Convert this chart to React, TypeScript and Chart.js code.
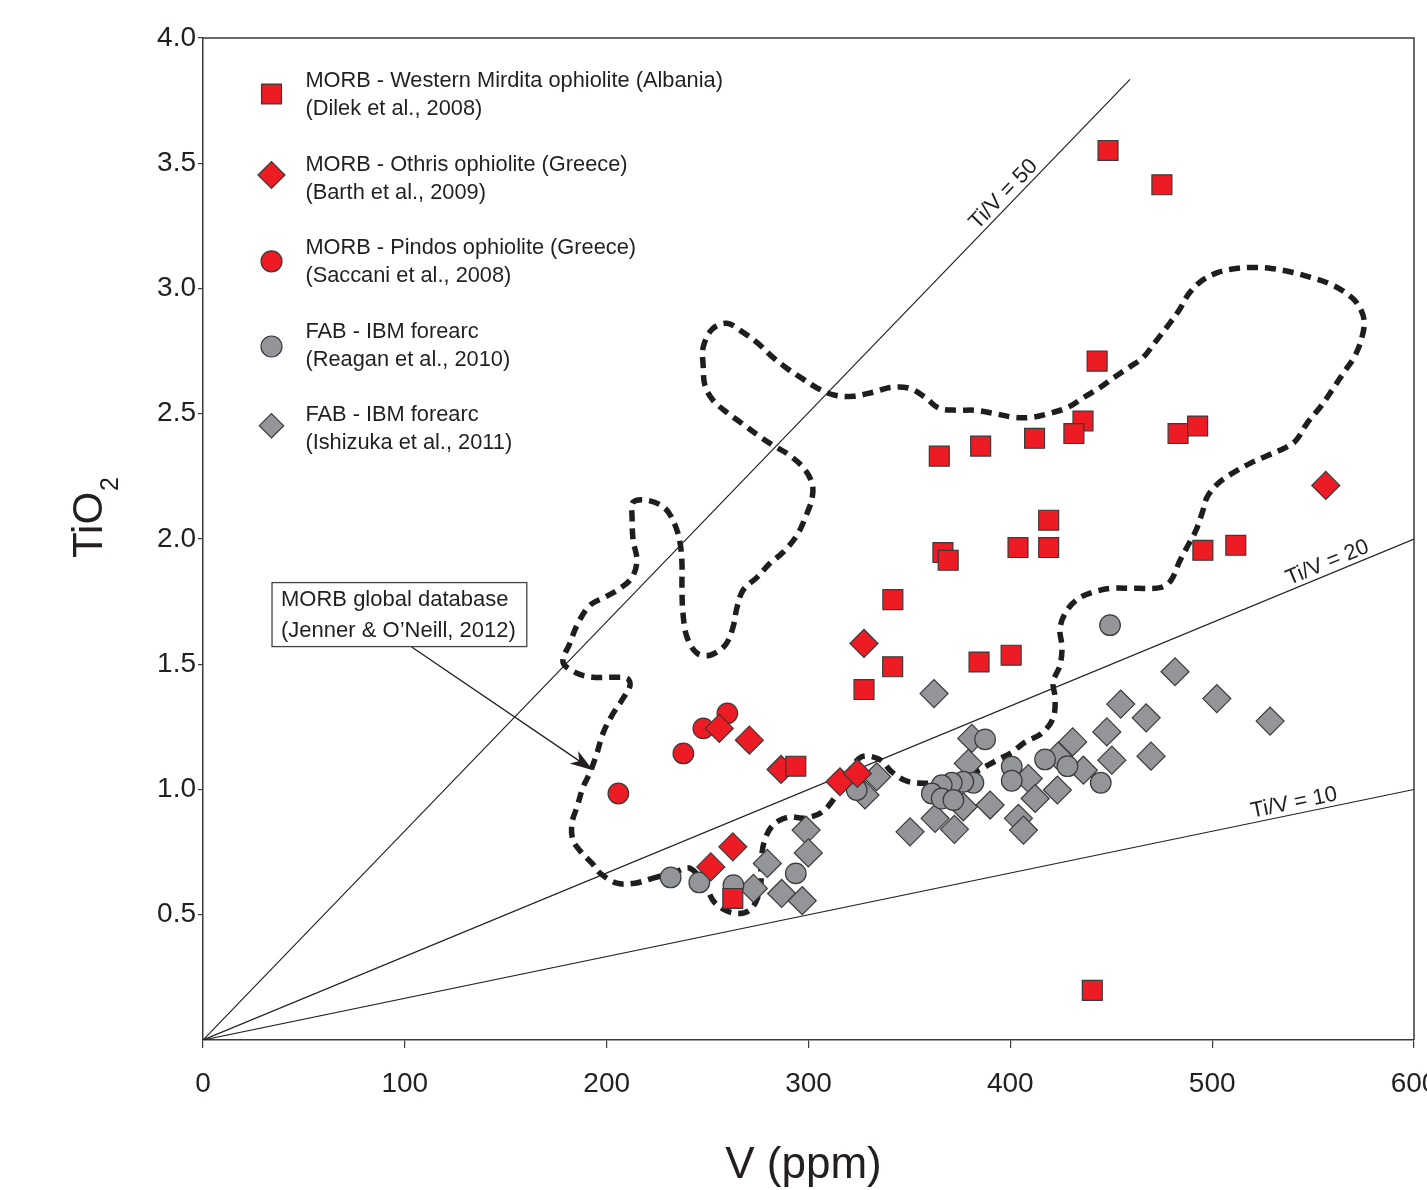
import React, { useEffect, useRef } from 'react';
import { Chart, registerables } from 'chart.js';

Chart.register(...registerables);

const FONT = '"Liberation Sans", Arial, Helvetica, sans-serif';
const INK = '#231f20';
const RED = '#ed1c24';
const GRAY = '#939598';
const EDGE = '#3a3a3a';

// axis ticks
const xTickValues = [0, 100, 200, 300, 400, 500, 600];
const yTickValues = [0.5, 1.0, 1.5, 2.0, 2.5, 3.0, 3.5, 4.0];

// MORB - Western Mirdita ophiolite (Albania), Dilek et al. 2008
const mirditaV = [448.4, 475.1, 443.0, 364.8, 385.3, 412.0, 436.0, 431.5, 483.1, 492.8, 419.0, 403.8, 419.0, 366.6, 369.2, 495.4, 511.7, 341.8, 341.7, 327.5, 384.5, 400.4, 293.7, 262.5, 440.6];
const mirditaTiO2 = [3.551, 3.414, 2.710, 2.331, 2.371, 2.402, 2.471, 2.421, 2.421, 2.451, 2.075, 1.966, 1.966, 1.946, 1.915, 1.955, 1.975, 1.758, 1.490, 1.399, 1.509, 1.536, 1.093, 0.565, 0.198];

// MORB - Othris ophiolite (Greece), Barth et al. 2009
const othrisV = [327.5, 255.8, 270.7, 286.4, 315.6, 324.2, 262.5, 251.6, 556.3];
const othrisTiO2 = [1.583, 1.244, 1.197, 1.080, 1.031, 1.064, 0.771, 0.691, 2.214];

// MORB - Pindos ophiolite (Greece), Saccani et al. 2008
const pindosV = [259.8, 247.9, 238.0, 205.8];
const pindosTiO2 = [1.304, 1.244, 1.144, 0.984];

// FAB - IBM forearc, Reagan et al. 2010
const reaganV = [231.7, 245.9, 262.8, 293.7, 323.9, 387.5, 381.7, 376.7, 371.0, 366.0, 361.1, 366.0, 371.8, 400.7, 400.7, 417.2, 428.3, 444.8, 449.4];
const reaganTiO2 = [0.649, 0.629, 0.618, 0.665, 0.998, 1.200, 1.027, 1.031, 1.027, 1.017, 0.984, 0.964, 0.958, 1.091, 1.035, 1.120, 1.093, 1.027, 1.656];

// FAB - IBM forearc, Ishizuka et al. 2011
const ishizukaV = [362.2, 279.6, 298.8, 299.9, 272.7, 286.7, 296.9, 333.8, 328.0, 380.9, 379.2, 376.7, 390.0, 372.3, 362.7, 350.3, 408.9, 412.3, 404.0, 406.5, 423.3, 423.7, 430.9, 436.2, 447.8, 450.3, 454.7, 467.3, 469.7, 481.6, 502.3, 528.7];
const ishizukaTiO2 = [1.383, 0.705, 0.838, 0.747, 0.605, 0.585, 0.556, 1.051, 0.978, 1.204, 1.104, 0.931, 0.938, 0.841, 0.885, 0.831, 1.044, 0.964, 0.885, 0.838, 0.998, 1.133, 1.190, 1.077, 1.230, 1.117, 1.341, 1.286, 1.133, 1.470, 1.363, 1.273];

// MORB global database field (Jenner & O'Neill, 2012) outline
const contourV = [223.0, 233.9, 241.3, 248.7, 253.7, 262.6, 271.0, 276.0, 276.5, 278.0,
  282.4, 289.9, 298.3, 306.7, 313.2, 319.1, 326.0, 335.0, 341.4, 348.8,
  358.7, 370.1, 382.5, 393.4, 400.9, 407.3, 415.7, 421.2, 422.2, 421.2,
  424.6, 425.6, 424.6, 428.1, 434.1, 441.0, 449.9, 462.3, 474.7, 479.6,
  484.1, 488.6, 492.0, 495.0, 497.5, 502.9, 509.9, 518.8, 527.7, 536.6,
  541.6, 547.0, 553.5, 559.4, 564.9, 570.3, 573.8, 575.3, 571.8, 565.8,
  557.9, 549.0, 540.1, 529.2, 520.8, 511.9, 502.9, 495.0, 488.6, 483.6,
  478.2, 471.7, 465.8, 458.8, 451.4, 444.5, 436.5, 428.6, 419.7, 410.8,
  401.8, 391.4, 382.5, 373.6, 364.7, 357.7, 350.3, 340.9, 332.0, 322.1,
  313.2, 304.7, 296.8, 289.4, 282.4, 275.0, 267.6, 259.6, 252.2, 247.8,
  247.8, 248.7, 252.7, 260.1, 267.6, 275.0, 282.4, 289.9, 297.3, 301.8,
  301.8, 299.3, 294.3, 287.4, 280.9, 274.5, 267.6, 264.6, 262.6, 258.7,
  251.2, 244.8, 239.8, 237.8, 237.3, 237.3, 236.4, 233.9, 228.9, 220.0,
  213.1, 212.6, 213.1, 215.0, 212.6, 206.6, 199.2, 191.8, 185.8, 181.8,
  178.4, 185.3, 193.2, 203.2, 210.1, 211.6, 207.6, 202.7, 198.2, 195.2,
  191.8, 188.3, 185.3, 182.8, 183.3, 187.8, 192.7, 196.7, 205.1, 214.0,
  223.0];
const contourTiO2 = [0.646, 0.670, 0.686, 0.618, 0.547, 0.507, 0.519, 0.599, 0.698, 0.790,
  0.858, 0.890, 0.886, 0.910, 0.970, 1.053, 1.129, 1.121, 1.069, 1.033,
  1.025, 1.029, 1.069, 1.117, 1.149, 1.189, 1.225, 1.285, 1.365, 1.428,
  1.496, 1.568, 1.644, 1.716, 1.764, 1.788, 1.803, 1.803, 1.807, 1.835,
  1.915, 1.983, 2.035, 2.103, 2.167, 2.222, 2.262, 2.302, 2.334, 2.366,
  2.394, 2.462, 2.526, 2.594, 2.661, 2.725, 2.793, 2.873, 2.941, 2.985,
  3.020, 3.044, 3.064, 3.080, 3.084, 3.080, 3.064, 3.032, 2.981, 2.913,
  2.853, 2.785, 2.725, 2.685, 2.645, 2.605, 2.566, 2.526, 2.502, 2.486,
  2.486, 2.502, 2.514, 2.514, 2.522, 2.566, 2.601, 2.605, 2.586, 2.570,
  2.574, 2.601, 2.641, 2.681, 2.725, 2.781, 2.825, 2.861, 2.837, 2.765,
  2.693, 2.613, 2.554, 2.502, 2.458, 2.414, 2.374, 2.338, 2.286, 2.222,
  2.163, 2.103, 2.015, 1.947, 1.903, 1.847, 1.796, 1.728, 1.648, 1.576,
  1.536, 1.544, 1.608, 1.704, 1.807, 1.903, 1.983, 2.055, 2.123, 2.155,
  2.147, 2.087, 1.995, 1.915, 1.847, 1.803, 1.768, 1.736, 1.664, 1.584,
  1.508, 1.464, 1.448, 1.448, 1.444, 1.416, 1.357, 1.297, 1.225, 1.145,
  1.069, 1.009, 0.930, 0.866, 0.798, 0.746, 0.706, 0.666, 0.626, 0.626,
  0.646];

// Ti/V reference lines (end points, V ppm / TiO2 wt%)
const tiV50V = [0, 459.3];
const tiV50TiO2 = [0, 3.835];
const tiV20V = [0, 600];
const tiV20TiO2 = [0, 2.0];
const tiV10V = [0, 600];
const tiV10TiO2 = [0, 1.0];

// label anchors on each line (V value)
const lineLabelTexts = ['Ti/V = 50', 'Ti/V = 20', 'Ti/V = 10'];
const lineLabelAnchorV = [400.6, 559.2, 541.7];

// annotation: box top-left and arrow in data units
const noteLines = ['MORB global database', '(Jenner & O\u2019Neill, 2012)'];
const noteBoxV = 34.2;
const noteBoxTiO2 = 1.826;
const noteArrowV = [103.4, 193.2];
const noteArrowTiO2 = [1.569, 1.077];

const legendTexts = [
  ['MORB - Western Mirdita ophiolite (Albania)', '(Dilek et al., 2008)'],
  ['MORB - Othris ophiolite (Greece)', '(Barth et al., 2009)'],
  ['MORB - Pindos ophiolite (Greece)', '(Saccani et al., 2008)'],
  ['FAB - IBM forearc', '(Reagan et al., 2010)'],
  ['FAB - IBM forearc', '(Ishizuka et al., 2011)'],
];

const pts = (xs: number[], ys: number[]) => xs.slice(0, Math.min(xs.length, ys.length)).map((x, i) => ({ x, y: ys[i] }));

function drawMarker(ctx: CanvasRenderingContext2D, style: string, x: number, y: number, r: number, fill: string) {
  ctx.save();
  ctx.beginPath();
  if (style === 'rect') {
    const h = r * Math.SQRT1_2;
    ctx.rect(x - h, y - h, 2 * h, 2 * h);
  } else if (style === 'rectRot') {
    ctx.moveTo(x - r, y);
    ctx.lineTo(x, y - r);
    ctx.lineTo(x + r, y);
    ctx.lineTo(x, y + r);
    ctx.closePath();
  } else {
    ctx.arc(x, y, r, 0, Math.PI * 2);
  }
  ctx.fillStyle = fill;
  ctx.fill();
  ctx.lineWidth = 1.2;
  ctx.strokeStyle = EDGE;
  ctx.stroke();
  ctx.restore();
}

const decor = {
  id: 'decor',
  afterDatasetsDraw(chart: any) {
    const { ctx, chartArea: a, scales } = chart;
    const xs = scales.x;
    const ys = scales.y;
    ctx.save();
    // frame top and right
    ctx.strokeStyle = EDGE;
    ctx.lineWidth = 1.5;
    ctx.beginPath();
    ctx.moveTo(a.left, a.top);
    ctx.lineTo(a.right, a.top);
    ctx.lineTo(a.right, a.bottom);
    ctx.stroke();

    // line labels
    const lineEnds = [
      [tiV50V, tiV50TiO2],
      [tiV20V, tiV20TiO2],
      [tiV10V, tiV10TiO2],
    ];
    ctx.fillStyle = INK;
    ctx.font = `22px ${FONT}`;
    ctx.textAlign = 'center';
    ctx.textBaseline = 'alphabetic';
    lineEnds.forEach(([lv, lt], i) => {
      const x0 = xs.getPixelForValue(lv[0]);
      const y0 = ys.getPixelForValue(lt[0]);
      const x1 = xs.getPixelForValue(lv[1]);
      const y1 = ys.getPixelForValue(lt[1]);
      const ang = Math.atan2(y1 - y0, x1 - x0);
      const v = lineLabelAnchorV[i];
      const t = lt[0] + (lt[1] - lt[0]) * (v - lv[0]) / (lv[1] - lv[0]);
      ctx.save();
      ctx.translate(xs.getPixelForValue(v), ys.getPixelForValue(t));
      ctx.rotate(ang);
      ctx.fillText(lineLabelTexts[i], 0, -5);
      ctx.restore();
    });

    // annotation box
    const bx = xs.getPixelForValue(noteBoxV);
    const by = ys.getPixelForValue(noteBoxTiO2);
    ctx.font = `22px ${FONT}`;
    const tw = Math.max(...noteLines.map((s) => ctx.measureText(s).width));
    const bw = tw + 20;
    const bh = 64;
    ctx.fillStyle = '#ffffff';
    ctx.fillRect(bx, by, bw, bh);
    ctx.strokeStyle = '#444444';
    ctx.lineWidth = 1.3;
    ctx.strokeRect(bx, by, bw, bh);
    ctx.fillStyle = INK;
    ctx.textAlign = 'left';
    ctx.textBaseline = 'middle';
    ctx.fillText(noteLines[0], bx + 9, by + 17);
    ctx.fillText(noteLines[1], bx + 9, by + 48);

    // arrow
    const ax0 = xs.getPixelForValue(noteArrowV[0]);
    const ay0 = ys.getPixelForValue(noteArrowTiO2[0]);
    const ax1 = xs.getPixelForValue(noteArrowV[1]);
    const ay1 = ys.getPixelForValue(noteArrowTiO2[1]);
    const len = Math.hypot(ax1 - ax0, ay1 - ay0);
    const ux = (ax1 - ax0) / len;
    const uy = (ay1 - ay0) / len;
    const nx = -uy;
    const ny = ux;
    const L = 23;
    const W = 7.5;
    ctx.strokeStyle = INK;
    ctx.lineWidth = 1.3;
    ctx.beginPath();
    ctx.moveTo(ax0, ay0);
    ctx.lineTo(ax1 - ux * L * 0.7, ay1 - uy * L * 0.7);
    ctx.stroke();
    ctx.fillStyle = INK;
    ctx.beginPath();
    ctx.moveTo(ax1, ay1);
    ctx.lineTo(ax1 - ux * L + nx * W, ay1 - uy * L + ny * W);
    ctx.lineTo(ax1 - ux * L * 0.72, ay1 - uy * L * 0.72);
    ctx.lineTo(ax1 - ux * L - nx * W, ay1 - uy * L - ny * W);
    ctx.closePath();
    ctx.fill();

    // legend
    const styles = ['rect', 'rectRot', 'circle', 'circle', 'rectRot'];
    const fills = [RED, RED, RED, GRAY, GRAY];
    const radii = [14.1, 13.5, 10.5, 10.5, 12.2];
    const markerDy = [13, 10.5, 13.3, 15, 10.7];
    const mx = a.left + 68.5;
    const tx = a.left + 102.4;
    ctx.font = `21.8px ${FONT}`;
    ctx.textAlign = 'left';
    ctx.textBaseline = 'middle';
    legendTexts.forEach((lines, i) => {
      const y1 = a.top + 43 + i * 83.5;
      drawMarker(ctx, styles[i], mx, y1 + markerDy[i], radii[i], fills[i]);
      ctx.fillStyle = INK;
      ctx.fillText(lines[0], tx, y1);
      ctx.fillText(lines[1], tx, y1 + 28.3);
    });
    ctx.restore();
  },
  afterDraw(chart: any) {
    const { ctx, chartArea: a } = chart;
    ctx.save();
    ctx.fillStyle = INK;
    // x title
    ctx.font = `44px ${FONT}`;
    ctx.textAlign = 'center';
    ctx.textBaseline = 'alphabetic';
    ctx.fillText('V (ppm)', (a.left + a.right) / 2 - 5, a.bottom + 138);
    // y title with subscript
    ctx.translate(102, (a.top + a.bottom) / 2 + 19);
    ctx.rotate(-Math.PI / 2);
    ctx.textAlign = 'left';
    ctx.font = `42px ${FONT}`;
    ctx.fillText('TiO', 0, 0);
    const w = ctx.measureText('TiO').width;
    ctx.font = `25px ${FONT}`;
    ctx.fillText('2', w + 1, 16);
    ctx.restore();
  },
};

export default function App() {
  const ref = useRef<HTMLCanvasElement | null>(null);
  useEffect(() => {
    document.body.style.margin = '0';
    document.body.style.overflow = 'hidden';
    const canvas = ref.current;
    if (!canvas) return;
    const markerBase = { borderColor: EDGE, borderWidth: 1.2, showLine: false };
    const chart = new Chart(canvas, {
      type: 'scatter',
      data: {
        datasets: [
          { label: 'Mirdita', data: pts(mirditaV, mirditaTiO2), pointStyle: 'rect', pointRadius: 14.1, backgroundColor: RED, order: 1, ...markerBase },
          { label: 'Othris', data: pts(othrisV, othrisTiO2), pointStyle: 'rectRot', pointRadius: 14, backgroundColor: RED, order: 2, ...markerBase },
          { label: 'Pindos', data: pts(pindosV, pindosTiO2), pointStyle: 'circle', pointRadius: 10.3, backgroundColor: RED, order: 3, ...markerBase },
          { label: 'Reagan', data: pts(reaganV, reaganTiO2), pointStyle: 'circle', pointRadius: 10.3, backgroundColor: GRAY, order: 4, ...markerBase },
          { label: 'Ishizuka', data: pts(ishizukaV, ishizukaTiO2), pointStyle: 'rectRot', pointRadius: 14, backgroundColor: GRAY, order: 5, ...markerBase },
          { label: 'Ti/V=50', data: pts(tiV50V, tiV50TiO2), showLine: true, pointRadius: 0, borderColor: INK, borderWidth: 1.2, order: 6 },
          { label: 'Ti/V=20', data: pts(tiV20V, tiV20TiO2), showLine: true, pointRadius: 0, borderColor: INK, borderWidth: 1.2, order: 6 },
          { label: 'Ti/V=10', data: pts(tiV10V, tiV10TiO2), showLine: true, pointRadius: 0, borderColor: INK, borderWidth: 1.2, order: 6 },
          { label: 'MORB field', data: pts(contourV, contourTiO2), showLine: true, pointRadius: 0, borderColor: '#1e1e1e', borderWidth: 5.5, borderDash: [11, 7], tension: 0.35, order: 7 },
        ] as any,
      },
      options: {
        animation: false,
        responsive: false,
        events: [],
        layout: { padding: { top: 38, right: 13, left: 0, bottom: 0 }, autoPadding: false },
        plugins: { legend: { display: false }, tooltip: { enabled: false } },
        scales: {
          x: {
            type: 'linear',
            min: 0,
            max: 600,
            afterFit: (s: any) => { s.height = 150; s.paddingLeft = 0; s.paddingRight = 0; },
            afterBuildTicks: (s: any) => { s.ticks = xTickValues.map((value) => ({ value })); },
            grid: { display: true, drawOnChartArea: false, drawTicks: true, tickLength: 8, color: EDGE, lineWidth: 1.2 },
            border: { display: true, color: EDGE, width: 1.5 },
            ticks: { font: { family: FONT, size: 28 }, color: INK, padding: 19, maxRotation: 0, autoSkip: false, callback: (v: any) => String(v) },
          },
          y: {
            type: 'linear',
            min: 0,
            max: 4,
            afterFit: (s: any) => { s.width = 203; s.paddingTop = 0; s.paddingBottom = 0; },
            afterBuildTicks: (s: any) => { s.ticks = yTickValues.map((value) => ({ value })); },
            grid: { display: true, drawOnChartArea: false, drawTicks: true, tickLength: 5, color: EDGE, lineWidth: 1.2 },
            border: { display: true, color: EDGE, width: 1.5 },
            ticks: { font: { family: FONT, size: 28 }, color: INK, padding: 2, autoSkip: false, callback: (v: any) => Number(v).toFixed(1) },
          },
        },
      } as any,
      plugins: [decor as any],
    });
    return () => chart.destroy();
  }, []);
  return (
    <div style={{ position: 'absolute', left: 0, top: 0, width: 1427, height: 1190 }}>
      <canvas ref={ref} width={1427} height={1190} style={{ width: 1427, height: 1190, display: 'block' }} />
    </div>
  );
}
